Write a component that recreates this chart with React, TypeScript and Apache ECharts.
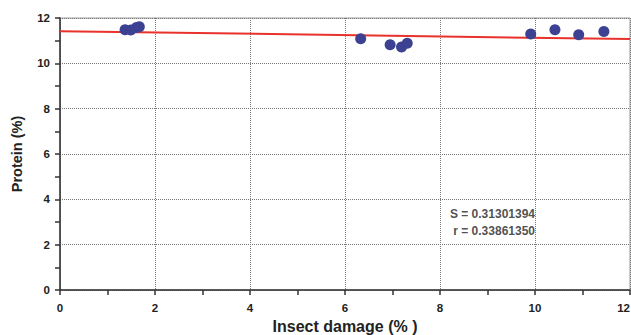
import React, { useEffect, useRef } from "react";
import * as echarts from "echarts";

const pointsX = [1.37, 1.49, 1.61, 1.67, 6.33, 6.95, 7.19, 7.31, 9.91, 10.42, 10.92, 11.45];
const pointsY = [11.48, 11.47, 11.58, 11.61, 11.08, 10.82, 10.72, 10.89, 11.29, 11.48, 11.26, 11.4];
const fitX = [0, 12];
const fitY = [11.42, 11.07];
const statLines = ["S = 0.31301394", "r = 0.33861350"];
const statPos = [10.0, 2.98];

export default function App() {
  const ref = useRef<HTMLDivElement>(null);
  useEffect(() => {
    document.body.style.margin = "0";
    if (!ref.current) return;
    const chart = echarts.init(ref.current, undefined, { renderer: "svg" });
    const font = "Arial, 'Liberation Sans', sans-serif";
    chart.setOption({
      animation: false,
      backgroundColor: "#fff",
      grid: {
        left: 60, right: 1, top: 18, bottom: 45,
        containLabel: false, outerBoundsMode: "none",
        show: true, borderColor: "#9a9a9a", borderWidth: 1,
      },
      xAxis: {
        type: "value", min: 0, max: 12, interval: 2,
        name: "Insect damage (% )", nameLocation: "middle", nameGap: 28,
        nameTextStyle: { fontFamily: font, fontWeight: "bold", fontSize: 16, color: "#222" },
        axisLine: { show: true, onZero: false, lineStyle: { color: "#333", width: 1.5 } },
        axisTick: { show: true, inside: false, length: 5, lineStyle: { color: "#333", width: 1.5 } },
        minorTick: { show: true, splitNumber: 2, length: 5, lineStyle: { color: "#333", width: 1.5 } },
        axisLabel: {
          fontFamily: font, fontWeight: "bold", fontSize: 11.5, color: "#222", margin: 12,
          alignMaxLabel: "right",
        },
        splitLine: { show: true, lineStyle: { color: "#777", type: [1, 1], width: 1 } },
      },
      yAxis: {
        type: "value", min: 0, max: 12, interval: 2,
        name: "Protein (%)", nameLocation: "middle", nameGap: 36,
        nameTextStyle: { fontFamily: font, fontWeight: "bold", fontSize: 14.5, color: "#222" },
        axisLine: { show: true, onZero: false, lineStyle: { color: "#333", width: 1.5 } },
        axisTick: { show: true, inside: false, length: 5, lineStyle: { color: "#333", width: 1.5 } },
        minorTick: { show: true, splitNumber: 2, length: 5, lineStyle: { color: "#333", width: 1.5 } },
        axisLabel: { fontFamily: font, fontWeight: "bold", fontSize: 11.5, color: "#222", margin: 10 },
        splitLine: { show: true, lineStyle: { color: "#777", type: [1, 1], width: 1 } },
      },
      series: [
        {
          type: "line",
          data: fitX.map((x, i) => [x, fitY[i]]),
          showSymbol: false,
          lineStyle: { color: "#e8322b", width: 2 },
          z: 3,
        },
        {
          type: "scatter",
          data: pointsX.map((x, i) => [x, pointsY[i]]),
          symbolSize: 11,
          itemStyle: { color: "#3d4192", opacity: 1 },
          z: 4,
        },
        {
          type: "scatter",
          data: [[statPos[0], statPos[1]]],
          symbolSize: 0,
          silent: true,
          label: {
            show: true,
            position: "left",
            distance: 0,
            formatter: statLines.join("\n"),
            fontFamily: font,
            fontWeight: "bold",
            fontSize: 12,
            color: "#222",
            align: "right",
            lineHeight: 17,
          },
        },
      ],
    });
    return () => chart.dispose();
  }, []);
  return <div ref={ref} style={{ width: 631, height: 335 }} />;
}
